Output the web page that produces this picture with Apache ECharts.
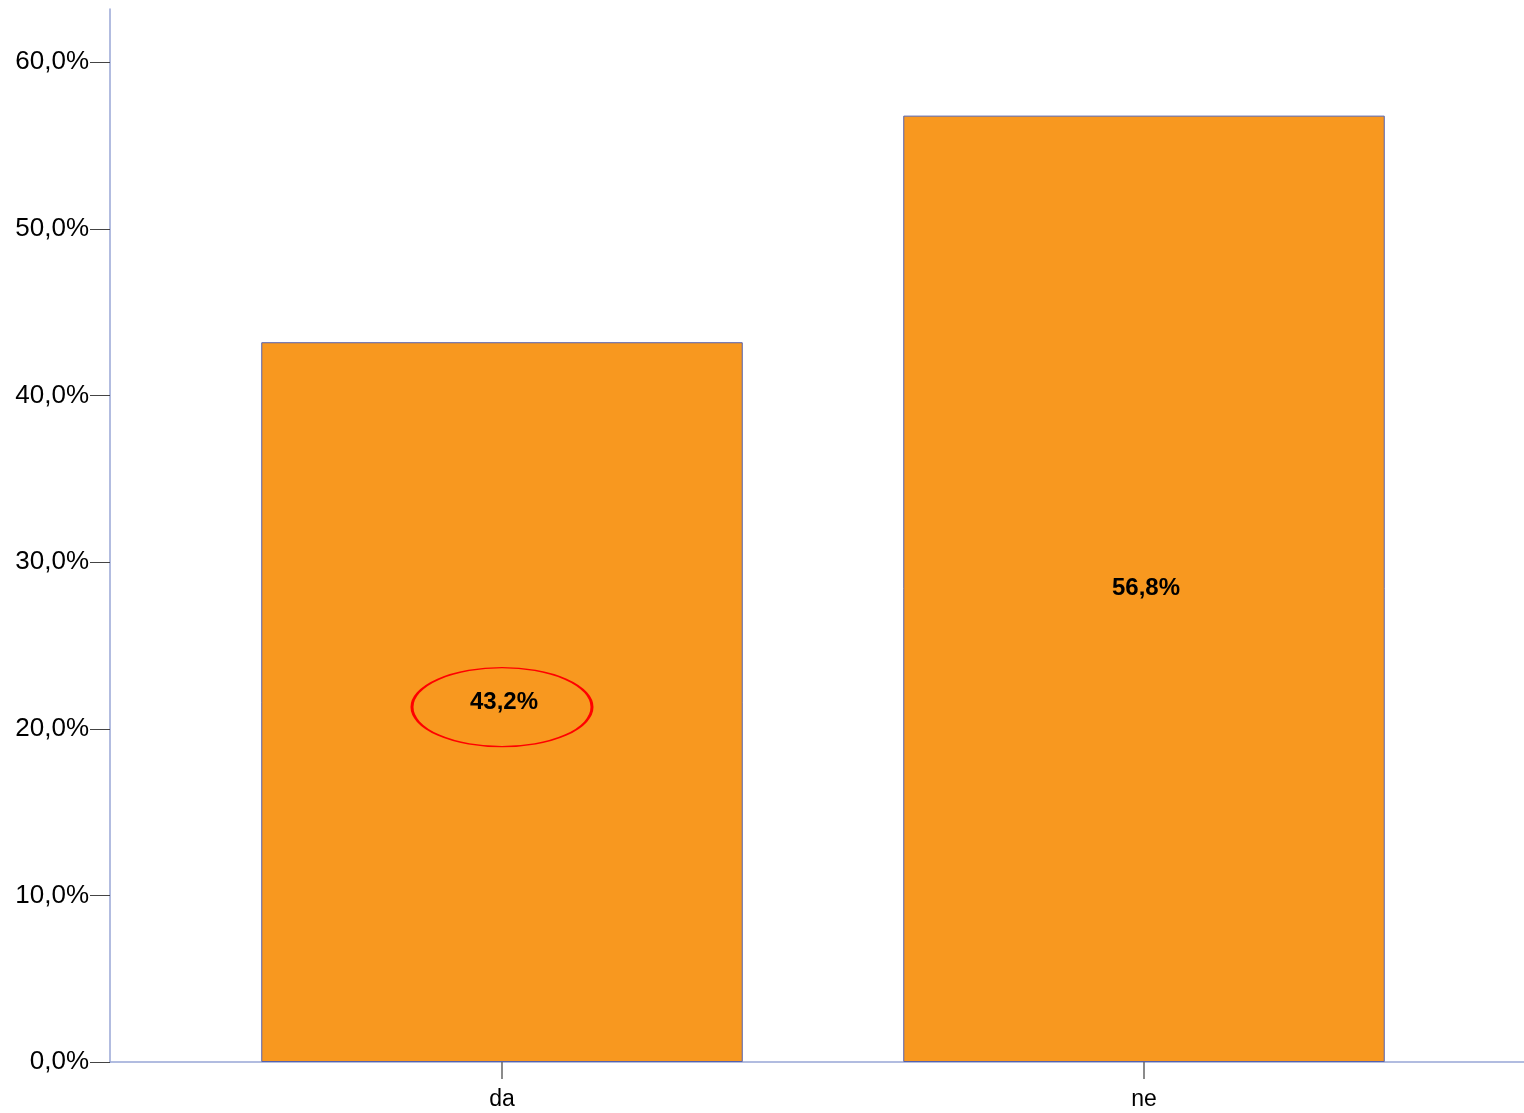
<!DOCTYPE html>
<html>
<head>
<meta charset="utf-8">
<script src="https://cdn.jsdelivr.net/npm/echarts@6/dist/echarts.min.js"></script>
<style>
html,body{margin:0;padding:0;background:#fff;}
#chart{width:1524px;height:1113px;}
</style>
</head>
<body>
<div id="chart"></div>
<script>
var categories = ['da', 'ne'];
var values = [43.2, 56.8];
var yTicks = [0, 10, 20, 30, 40, 50, 60];
var highlight = { category: 'da', value: 21.3 };

var Y_MAX = 63.2;
var chart = echarts.init(document.getElementById('chart'));
function pct(v) { return v.toFixed(1).replace('.', ',') + '%'; }

var option = {
  backgroundColor: '#ffffff',
  animation: false,
  grid: [
    { left: 110, right: 0, top: 9, bottom: 51 },
    { left: 181, right: 59, top: 9, bottom: 51 }
  ],
  xAxis: [
    {
      gridIndex: 0, type: 'category', data: [''],
      axisLine: { show: true, lineStyle: { color: '#98a6d6', width: 1.5 } },
      axisTick: { show: false }, axisLabel: { show: false }, splitLine: { show: false }
    },
    {
      gridIndex: 1, type: 'category', data: categories,
      axisLine: { show: false },
      axisTick: { show: true, alignWithLabel: true, length: 17, lineStyle: { color: '#666666', width: 1.5 } },
      axisLabel: { show: true, margin: 26, fontSize: 23, color: '#000', fontFamily: 'Liberation Sans, Arial, sans-serif' },
      splitLine: { show: false }
    }
  ],
  yAxis: [
    {
      gridIndex: 0, type: 'value', min: 0, max: Y_MAX,
      axisLine: { show: true, lineStyle: { color: '#98a6d6', width: 1.5 } },
      axisTick: { show: true, length: 20, customValues: yTicks, lineStyle: { color: '#444444', width: 1 } },
      axisLabel: { show: true, margin: 21, fontSize: 26, color: '#000', customValues: yTicks,
        padding: [8, 0, 0, 0],
        fontFamily: 'Liberation Sans, Arial, sans-serif', formatter: function (v) { return pct(v); } },
      splitLine: { show: false }
    },
    {
      gridIndex: 1, type: 'value', min: 0, max: Y_MAX, show: false,
      splitLine: { show: false }
    }
  ],
  series: [
    {
      type: 'bar', xAxisIndex: 1, yAxisIndex: 1,
      data: values, barWidth: '75%',
      itemStyle: { color: '#f8981f', borderColor: '#5561ad', borderWidth: 1 },
      label: {
        show: true, position: 'inside', color: '#000', fontWeight: 'bold', fontSize: 24,
        padding: [8, 0, 0, 4],
        fontFamily: 'Liberation Sans, Arial, sans-serif',
        formatter: function (p) { return pct(p.value); }
      },
      markPoint: {
        symbol: 'path://M0,50 A50,50 0 1,1 100,50 A50,50 0 1,1 0,50 Z',
        symbolSize: [180, 79],
        itemStyle: { color: 'rgba(0,0,0,0)', borderColor: '#ff0000', borderWidth: 2 },
        label: { show: false },
        data: [{ coord: [highlight.category, highlight.value] }]
      }
    }
  ]
};
chart.setOption(option);
</script>
</body>
</html>
